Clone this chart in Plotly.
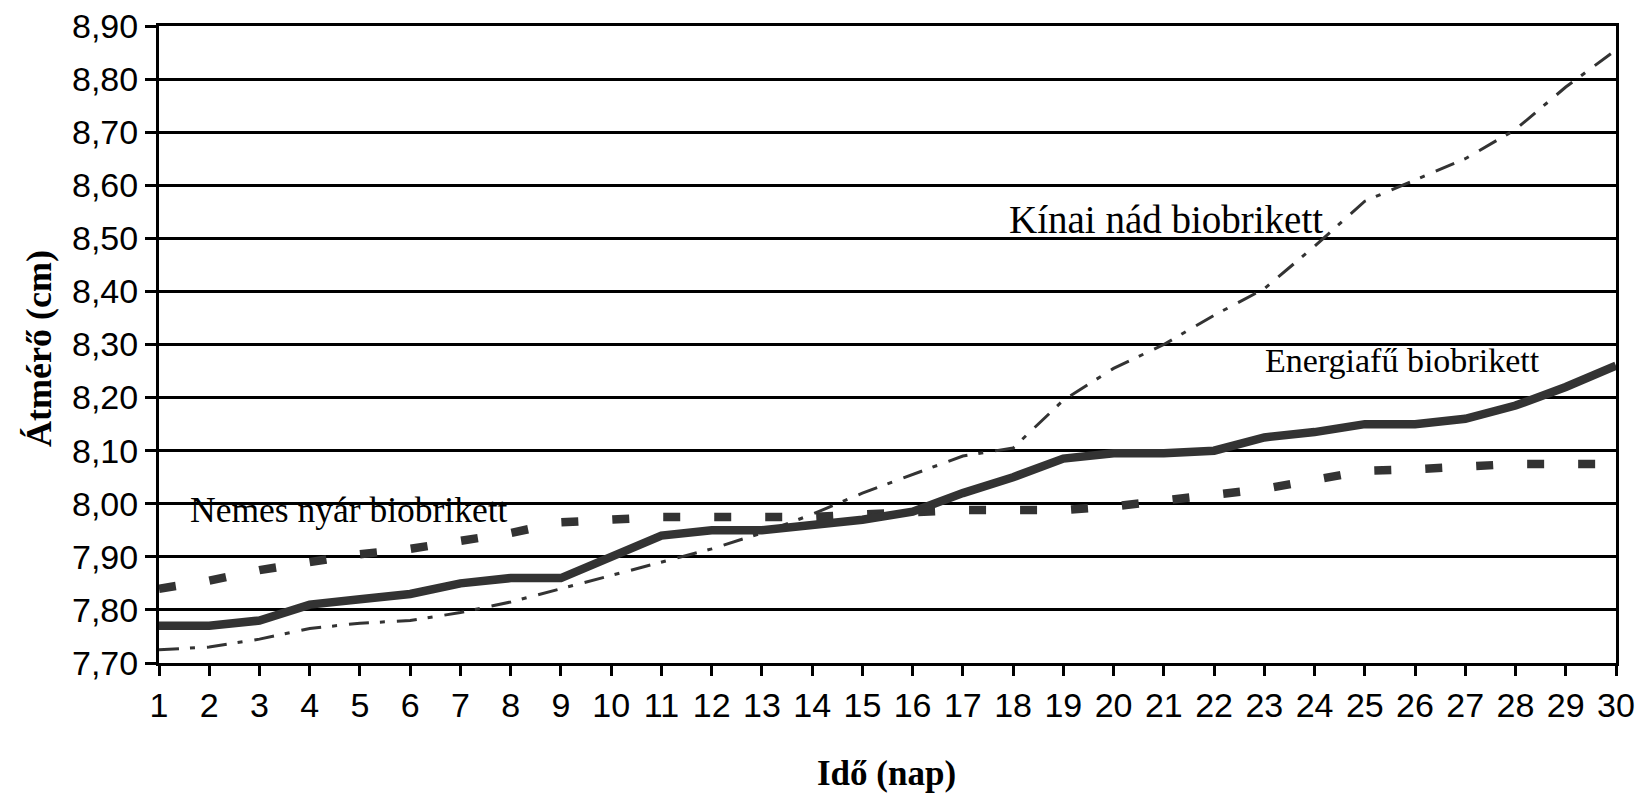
import plotly.graph_objects as go

# ---- data ----
days = list(range(1, 31))
tick_labels = [str(d) for d in days]

energiafu = [7.77, 7.77, 7.78, 7.81, 7.82, 7.83, 7.85, 7.86, 7.86, 7.90,
             7.94, 7.95, 7.95, 7.96, 7.97, 7.985, 8.02, 8.05, 8.085, 8.095,
             8.095, 8.10, 8.125, 8.135, 8.15, 8.15, 8.16, 8.185, 8.22, 8.26]

kinai_nad = [7.725, 7.73, 7.745, 7.765, 7.775, 7.78, 7.795, 7.815, 7.84, 7.865,
             7.89, 7.915, 7.945, 7.98, 8.02, 8.055, 8.09, 8.105, 8.195, 8.255,
             8.30, 8.355, 8.405, 8.485, 8.57, 8.61, 8.65, 8.705, 8.785, 8.855]

nemes_nyar = [7.84, 7.855, 7.875, 7.89, 7.905, 7.915, 7.93, 7.945, 7.965, 7.97,
              7.975, 7.975, 7.975, 7.975, 7.98, 7.985, 7.988, 7.988, 7.988, 7.995,
              8.005, 8.015, 8.028, 8.045, 8.062, 8.065, 8.07, 8.075, 8.075, 8.075]

y_ticks = [7.70 + 0.1 * i for i in range(13)]

LINE = "#333333"
SANS = "Liberation Sans, Arial, sans-serif"
SERIF = "Liberation Serif, Times New Roman, serif"
TICK_SIZE = 34

fig = go.Figure()
fig.add_trace(go.Scatter(x=days, y=kinai_nad, mode="lines", name="Kínai nád biobrikett",
                         line=dict(color=LINE, width=3, dash="20px,11px,5px,12px")))
fig.add_trace(go.Scatter(x=days, y=nemes_nyar, mode="lines", name="Nemes nyár biobrikett",
                         line=dict(color=LINE, width=8.5, dash="17px,34px")))
fig.add_trace(go.Scatter(x=days, y=energiafu, mode="lines", name="Energiafű biobrikett",
                         line=dict(color=LINE, width=8.5)))

fig.update_layout(
    width=1636, height=794,
    margin=dict(l=159, r=20, t=26, b=131, autoexpand=False),
    paper_bgcolor="white", plot_bgcolor="white",
    showlegend=False,
    separators=",.",
    font=dict(family=SANS, size=TICK_SIZE, color="black"),
)

fig.update_xaxes(
    range=[1, 30], tickmode="array", tickvals=days, ticktext=tick_labels,
    showgrid=False, zeroline=False, automargin=False,
    showline=True, linecolor="black", linewidth=3, mirror=True,
    ticks="outside", ticklen=10, tickwidth=3, tickcolor="black",
    ticklabeloverflow="allow",
    tickfont=dict(family=SANS, size=TICK_SIZE, color="black"),
)
fig.update_yaxes(
    range=[7.70, 8.90], tickmode="array", tickvals=y_ticks, tickformat=".2f",
    showgrid=True, gridcolor="black", gridwidth=3, zeroline=False, automargin=False,
    showline=True, linecolor="black", linewidth=3, mirror=True,
    ticks="outside", ticklen=11, tickwidth=3, tickcolor="black",
    ticklabeloverflow="allow",
    tickfont=dict(family=SANS, size=TICK_SIZE, color="black"),
)

annots = [
    dict(text="Kínai nád biobrikett", x=17.88, y=8.536, xref="x", yref="y",
         xanchor="left", yanchor="middle", showarrow=False,
         font=dict(family=SERIF, size=39, color="black")),
    dict(text="Energiafű biobrikett", x=22.98, y=8.27, xref="x", yref="y",
         xanchor="left", yanchor="middle", showarrow=False,
         font=dict(family=SERIF, size=34, color="black")),
    dict(text="Nemes nyár biobrikett", x=1.58, y=7.988, xref="x", yref="y",
         xanchor="left", yanchor="middle", showarrow=False,
         font=dict(family=SERIF, size=35.5, color="black")),
    dict(text="<b>Átmérő (cm)</b>", x=-0.0824, y=0.4945, xref="paper", yref="paper",
         xanchor="center", yanchor="middle", textangle=-90, showarrow=False,
         font=dict(family=SERIF, size=36, color="black")),
    dict(text="<b>Idő (nap)</b>", x=0.499, y=-0.1727, xref="paper", yref="paper",
         xanchor="center", yanchor="middle", showarrow=False,
         font=dict(family=SERIF, size=35, color="black")),
]
fig.update_layout(annotations=annots)

# remove the default 8px page margin so the figure fills the window exactly
fig.write_html(
    "out.html",
    config={"displayModeBar": False},
    post_script="document.body.style.margin='0';document.body.style.overflow='hidden';",
)
